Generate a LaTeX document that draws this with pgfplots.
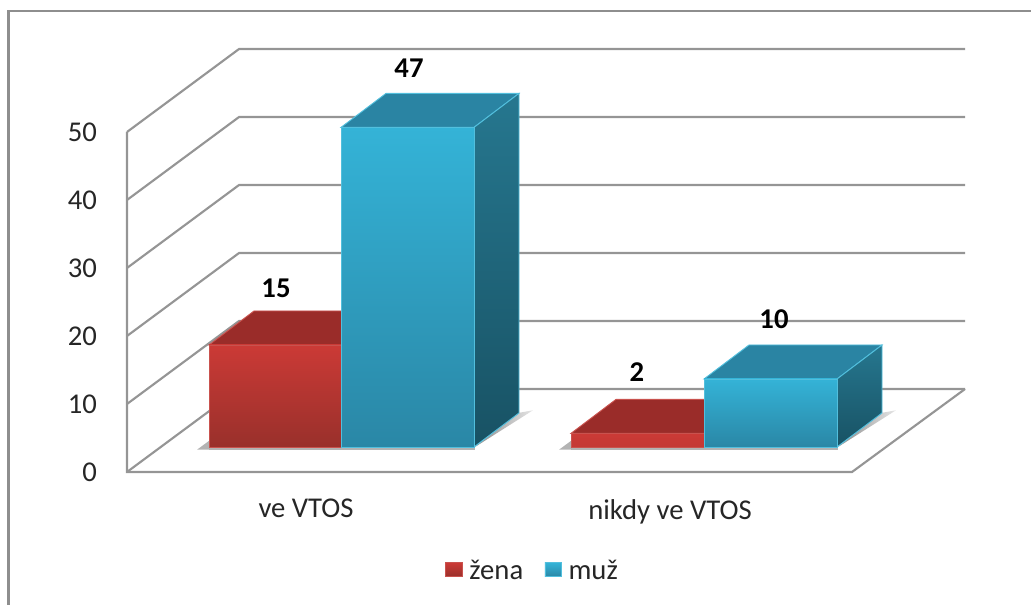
\documentclass[border=0pt]{standalone}
\usepackage{pgfplots}
\pgfplotsset{compat=1.18}
\usepackage{fontspec}
\setmainfont{Carlito}
\definecolor{gridc}{HTML}{959595}
\definecolor{framec}{HTML}{8E8E8E}
\definecolor{redT}{HTML}{CB3A36}
\definecolor{redB}{HTML}{99302B}
\definecolor{redTop}{HTML}{9A2C29}
\definecolor{redE}{HTML}{C9524E}
\definecolor{bluT}{HTML}{34B3D7}
\definecolor{bluB}{HTML}{2A87A6}
\definecolor{bluTop}{HTML}{2A84A3}
\definecolor{bluS}{HTML}{26778F}
\definecolor{bluSB}{HTML}{185264}
\definecolor{bluE}{HTML}{52BFDD}
\definecolor{txt}{HTML}{262626}
\newcommand{\lblfont}{\fontsize{21.5}{23}\selectfont}
\pgfplotsset{gl/.style={color=gridc,solid,line width=1.6pt,mark=none}}
\begin{document}
\begin{tikzpicture}[x=0.75pt,y=0.75pt]
\useasboundingbox (0,0) rectangle (1031,605);
% chart frame
\draw[framec,line width=2.2pt] (8.5,0) -- (8.5,594) -- (1031,594);
% walls and floor
\begin{axis}[
  at={(95.25pt,99.75pt)},anchor=south west,scale only axis,
  width=543.75pt,height=255pt,
  xmin=127,xmax=852,ymin=0,ymax=50,clip=false,
  axis line style={draw=none},tick style={draw=none},
  ytick={0,10,20,30,40,50},
  xtick={306,670},xticklabels={ve VTOS,nikdy ve VTOS},
  xticklabel style={yshift=-17pt,text=txt,font=\lblfont},
  yticklabel style={xshift=-19pt,text=txt,font=\lblfont},
  /pgf/number format/assume math mode=true,
]
\addplot[gl] coordinates {(127,50)(239,62.2)(965,62.2)};
\addplot[gl] coordinates {(127,40)(239,52.2)(965,52.2)};
\addplot[gl] coordinates {(127,30)(239,42.2)(965,42.2)};
\addplot[gl] coordinates {(127,20)(239,32.2)(965,32.2)};
\addplot[gl] coordinates {(127,10)(239,22.2)(965,22.2)};
\addplot[gl] coordinates {(127,0)(239,12.2)(965,12.2)};
\addplot[gl] coordinates {(127,50)(127,0)(852,0)(965,12.2)};
\end{axis}
% bars: same scale, standing 25 px in front of the floor edge
\begin{axis}[
  at={(95.25pt,118.5pt)},anchor=south west,scale only axis,
  width=543.75pt,height=255pt,
  xmin=127,xmax=852,ymin=0,ymax=50,clip=false,
  hide axis,
  legend style={at={(axis cs:533,-18.2)},anchor=center,draw=none,fill=none,
    font=\lblfont,text=txt,legend columns=2,
    /tikz/column 1/.style={column sep=3pt},
    /tikz/column 2/.style={column sep=14pt},
    /tikz/column 3/.style={column sep=3pt},
    inner sep=0pt},
  legend cell align=left,
  every axis plot/.append style={mark=none,line width=0.7pt},
]
% floor shadows
\addplot[draw=none,fill=gray!85,opacity=.7,forget plot] coordinates {(197,-0.4)(209,0.9)(209,-0.4)} --cycle;
\addplot[draw=none,fill=gray!85,opacity=.7,forget plot] coordinates {(209,-0.4)(475,-0.4)(475,0)(209,0)} --cycle;
\addplot[draw=none,left color=gray!90,right color=gray!20,forget plot] coordinates {(475,0)(518,5)(533,5.4)} --cycle;
\addplot[draw=none,fill=gray!85,opacity=.7,forget plot] coordinates {(559,-0.4)(571,0.9)(571,-0.4)} --cycle;
\addplot[draw=none,fill=gray!85,opacity=.7,forget plot] coordinates {(571,-0.4)(838,-0.4)(838,0)(571,0)} --cycle;
\addplot[draw=none,left color=gray!90,right color=gray!20,forget plot] coordinates {(838,0)(881,5)(896,5.4)} --cycle;
% zena 15
\addplot[draw=redE,fill=redTop,forget plot] coordinates {(209,15)(341,15)(386,20)(254,20)} --cycle;
\addplot[draw=redE,top color=redT,bottom color=redB,forget plot] coordinates {(209,0)(341,0)(341,15)(209,15)} --cycle;
% muz 47
\addplot[draw=bluE,fill=bluTop,forget plot] coordinates {(341,47)(474,47)(519,52)(386,52)} --cycle;
\addplot[draw=bluE,top color=bluS,bottom color=bluSB,forget plot] coordinates {(474,0)(519,5)(519,52)(474,47)} --cycle;
\addplot[draw=bluE,top color=bluT,bottom color=bluB,forget plot] coordinates {(341,0)(474,0)(474,47)(341,47)} --cycle;
% zena 2
\addplot[draw=redE,fill=redTop,forget plot] coordinates {(571,2)(704,2)(749,7)(616,7)} --cycle;
\addplot[draw=redE,top color=redT,bottom color=redT!85!redB,forget plot] coordinates {(571,0)(704,0)(704,2)(571,2)} --cycle;
% muz 10
\addplot[draw=bluE,fill=bluTop,forget plot] coordinates {(704,10)(837,10)(882,15)(749,15)} --cycle;
\addplot[draw=bluE,top color=bluS,bottom color=bluSB,forget plot] coordinates {(837,0)(882,5)(882,15)(837,10)} --cycle;
\addplot[draw=bluE,top color=bluT,bottom color=bluB,forget plot] coordinates {(704,0)(837,0)(837,10)(704,10)} --cycle;
% data labels
\node[font=\lblfont\bfseries,text=black] at (axis cs:276,23.4) {15};
\node[font=\lblfont\bfseries,text=black] at (axis cs:409,55.7) {47};
\node[font=\lblfont\bfseries,text=black] at (axis cs:637,11.0) {2};
\node[font=\lblfont\bfseries,text=black] at (axis cs:774,18.8) {10};
% legend
\addlegendimage{legend image code/.code={\path[draw=redE,top color=redT,bottom color=redB,line width=0.5pt] (0,-6.5pt) rectangle (12.5pt,6pt);}}
\addlegendentry{žena}
\addlegendimage{legend image code/.code={\path[draw=bluE,top color=bluT,bottom color=bluB,line width=0.5pt] (0,-6.5pt) rectangle (12.5pt,6pt);}}
\addlegendentry{muž}
\end{axis}
\end{tikzpicture}
\end{document}
